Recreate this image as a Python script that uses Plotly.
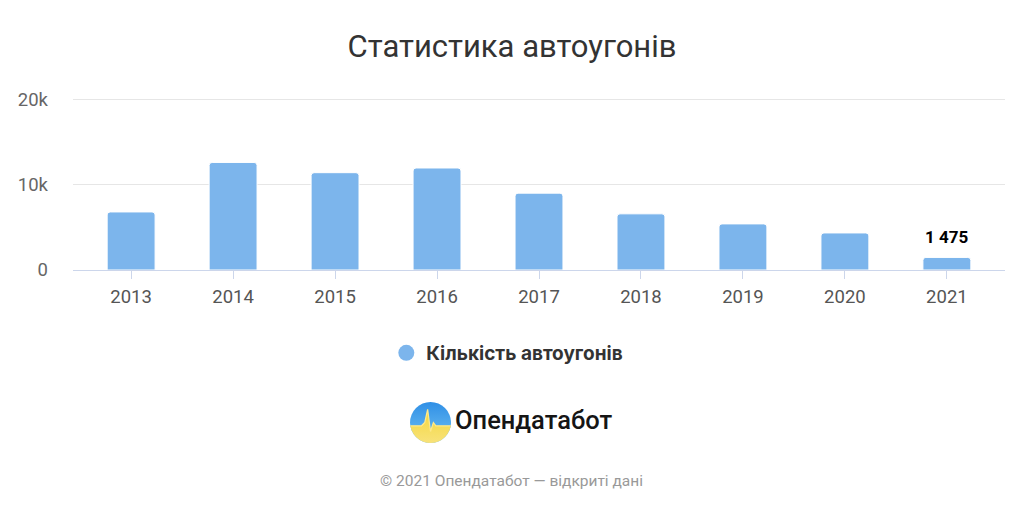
import plotly.graph_objects as go

years = ["2013", "2014", "2015", "2016", "2017", "2018", "2019", "2020", "2021"]
thefts = [6800, 12600, 11400, 11950, 9000, 6580, 5400, 4340, 1475]
y_tickvals = [0, 10000, 20000]
y_ticktext = ["0", "10k", "20k"]
series_name = "Кількість автоугонів"
title_text = "Статистика автоугонів"
logo_text = "Опендатабот"
footer_text = "© 2021 Опендатабот — відкриті дані"

BAR = "#7cb5ec"

logo_svg = (
    "data:image/svg+xml;utf8,"
    "<svg xmlns='http://www.w3.org/2000/svg' viewBox='0 0 100 100'>"
    "<defs><linearGradient id='b' x1='0' y1='0' x2='0' y2='1'>"
    "<stop offset='0' stop-color='%232f8fe6'/><stop offset='1' stop-color='%2372c2f2'/></linearGradient>"
    "<linearGradient id='y' x1='0' y1='0' x2='0' y2='1'>"
    "<stop offset='0' stop-color='%23f3d73a'/><stop offset='1' stop-color='%23f8e27a'/></linearGradient>"
    "<clipPath id='c'><circle cx='50' cy='50' r='50'/></clipPath></defs>"
    "<g clip-path='url(%23c)'>"
    "<rect x='0' y='0' width='100' height='100' fill='url(%23b)'/>"
    "<polygon points='0,58 28,58 36,50 43,18 50,72 57,50 63,58 100,58 100,100 0,100' fill='url(%23y)'/>"
    "<polyline points='0,58 28,58 36,50 43,18 50,72 57,50 63,58 100,58' fill='none' stroke='%23ffe98a' stroke-width='3'/>"
    "</g></svg>"
)

label_text = "<b>" + f"{thefts[-1]:,}".replace(",", " ") + "</b>"

# plot area: y=0 at 270px, 8.5 px per 1000
Y_MAX = 20500
TOP = 95
H = 270 - TOP


def py(px):
    return (270 - px) / H


fig = go.Figure()
fig.add_trace(go.Bar(
    x=years, y=thefts, name=series_name, showlegend=False,
    marker=dict(color=BAR, line=dict(color="white", width=1), cornerradius=3),
    width=0.47, hoverinfo="x+y",
))
fig.add_trace(go.Scatter(
    x=[years[0]], y=[None], mode="markers", name=series_name,
    marker=dict(color=BAR, size=16, symbol="circle"), showlegend=True,
))

fig.add_annotation(
    x=len(years) - 1, y=thefts[-1], xref="x", yref="y",
    text=label_text,
    showarrow=False, yanchor="bottom", yshift=8,
    font=dict(family="Roboto", size=17, color="#000000"),
)
fig.add_annotation(
    x=0.408, y=py(420), xref="paper", yref="paper", xanchor="left", yanchor="middle",
    text=logo_text, showarrow=False,
    font=dict(family="Roboto", size=25.5, color="#151515", weight=500),
)
fig.add_annotation(
    x=0.471, y=py(481), xref="paper", yref="paper", xanchor="center", yanchor="middle",
    text=footer_text, showarrow=False,
    font=dict(family="Roboto", size=15.5, color="#999999"),
)
fig.add_layout_image(
    source=logo_svg, xref="paper", yref="paper",
    x=0.3616, y=py(402), sizex=0.044, sizey=41 / H,
    xanchor="left", yanchor="top", sizing="stretch", layer="above",
)

fig.update_layout(
    width=1024, height=512,
    margin=dict(l=73, r=19, t=TOP, b=512 - 270),
    paper_bgcolor="white", plot_bgcolor="white",
    font=dict(family="Roboto", color="#666666"),
    title=dict(text=title_text, x=0.5, xanchor="center", y=1 - 46 / 512, yanchor="middle",
               font=dict(family="Roboto", size=31, color="#333333")),
    legend=dict(orientation="h", x=0.466, xanchor="center", y=py(353), yanchor="middle",
                bgcolor="rgba(0,0,0,0)",
                font=dict(family="Inter", size=19, color="#333333", weight=700)),
    bargap=0.5,
)
fig.update_xaxes(
    type="category", range=[-0.57, 8.57],
    showline=True, linecolor="#ccd6eb", linewidth=1,
    ticks="outside", ticklen=8, tickcolor="#ccd6eb", tickwidth=1,
    ticklabelstandoff=2,
    showgrid=False, tickfont=dict(family="Roboto", size=18.5, color="#555555"),
)
fig.update_yaxes(
    range=[0, Y_MAX], tickvals=y_tickvals, ticktext=y_ticktext,
    showgrid=True, gridcolor="#e6e6e6", gridwidth=1, zeroline=False,
    ticklabelstandoff=24,
    tickfont=dict(family="Roboto", size=18.5, color="#666666"),
)

fig.write_html("out.html", config={"displayModeBar": False},
               post_script="document.body.style.margin='0';document.body.style.padding='0';")
